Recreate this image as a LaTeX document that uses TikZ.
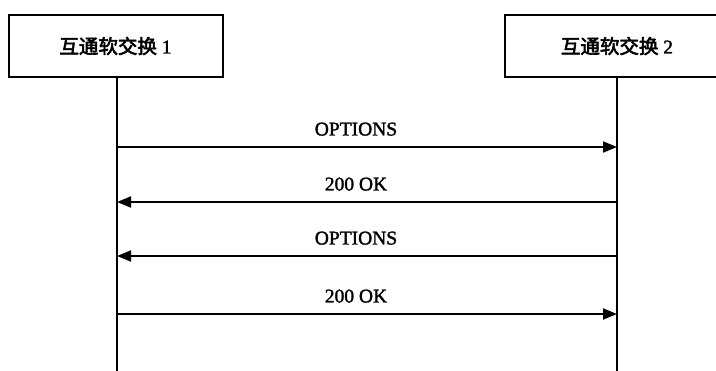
\documentclass[tikz,border=0pt]{standalone}
\usepackage{fontspec}
\setmainfont{Liberation Serif}[FakeBold=1.6]
\newfontfamily\cjk{Noto Sans CJK SC}[FakeBold=3]
\usetikzlibrary{arrows.meta}
\tikzset{
  entity/.style={draw, line width=2pt, minimum height=62pt, inner sep=0pt, font=\fontsize{19.5}{22}\selectfont},
  life/.style={line width=2pt},
  msg/.style={line width=2pt, -{Triangle[length=14pt,width=11pt]}},
  lbl/.style={anchor=base, yshift=11.5pt, xshift=-11pt, inner sep=0pt, font=\fontsize{19.5}{22}\selectfont}
}
\begin{document}
\begin{tikzpicture}[x=1pt,y=-1pt]
\useasboundingbox (0,0) rectangle (716,371);
\clip (0,0) rectangle (716,371);
\node[entity, minimum width=214pt] (e1) at (115.5,46) {{\cjk 互通软交换} 1};
\node[entity, minimum width=224pt] (e2) at (617,46) {{\cjk 互通软交换} 2};
\coordinate (b1) at (117,372);
\coordinate (b2) at (617,372);
\draw[life] (e1.south -| b1) -- (b1);
\draw[life] (e2.south) -- (b2);
\coordinate (m1l) at (117,147); \coordinate (m1r) at (617,147);
\coordinate (m2l) at (117,202); \coordinate (m2r) at (617,202);
\coordinate (m3l) at (117,256); \coordinate (m3r) at (617,256);
\coordinate (m4l) at (117,314); \coordinate (m4r) at (617,314);
\draw[msg] (m1l) -- node[lbl] (t1) {OPTIONS} (m1r);
\draw[msg] (m2r) -- node[lbl] (t2) {200 OK} (m2l);
\draw[msg] (m3r) -- node[lbl] (t3) {OPTIONS} (m3l);
\draw[msg] (m4l) -- node[lbl] (t4) {200 OK} (m4r);
\end{tikzpicture}
\end{document}
